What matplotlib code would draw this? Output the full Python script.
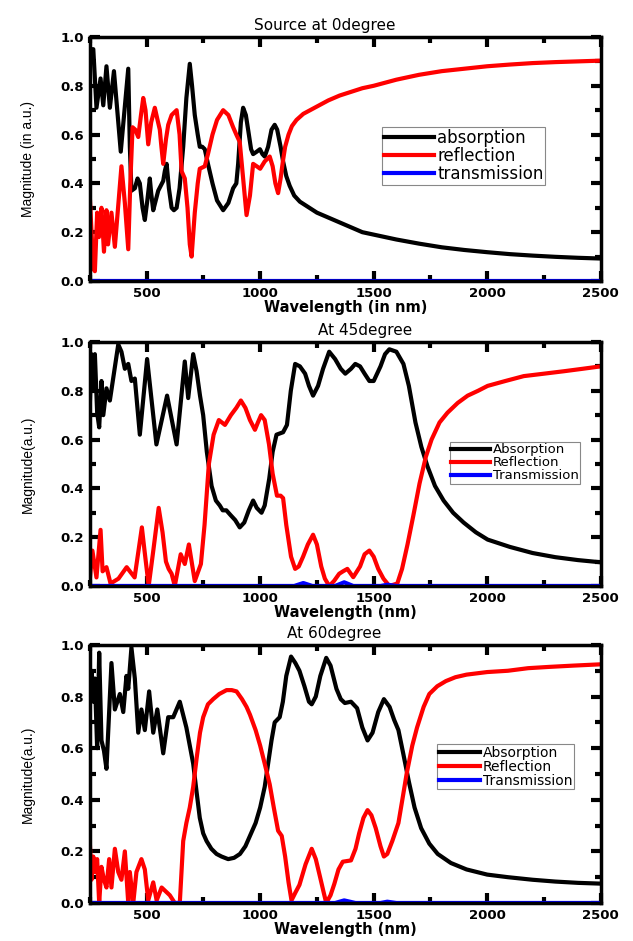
import numpy as np
import matplotlib
matplotlib.use("Agg")
import matplotlib.pyplot as plt
from matplotlib.ticker import MultipleLocator

plt.rcParams['font.family'] = ['DejaVu Sans']

# ---- Source at 0 degree ----
wl_a0 = [250, 265, 279, 297, 309, 323, 338, 356, 386, 419, 426, 433, 448, 460, 470, 482,
         492, 503, 514, 520, 529, 540, 551, 562, 573, 580, 588, 598, 610, 620, 632, 645,
         661, 675, 690, 700, 712, 725, 734, 745, 756, 770, 790, 810, 837, 860, 881, 895,
         903, 915, 925, 937, 947, 960, 969, 985, 999, 1010, 1020, 1035, 1050, 1064, 1075,
         1090, 1101, 1115, 1130, 1150, 1175, 1200, 1250, 1300, 1350, 1400, 1450, 1500,
         1600, 1700, 1800, 1900, 2000, 2100, 2200, 2300, 2400, 2500]
abs0 = [0.95, 0.95, 0.71, 0.83, 0.72, 0.88, 0.71, 0.86, 0.53, 0.87, 0.55, 0.37, 0.38, 0.42,
        0.40, 0.30, 0.25, 0.33, 0.42, 0.36, 0.29, 0.33, 0.37, 0.39, 0.41, 0.45, 0.48, 0.38,
        0.30, 0.29, 0.30, 0.38, 0.55, 0.75, 0.89, 0.80, 0.68, 0.60, 0.55, 0.55, 0.54, 0.48,
        0.40, 0.33, 0.29, 0.32, 0.38, 0.40, 0.48, 0.65, 0.71, 0.68, 0.62, 0.54, 0.52, 0.53,
        0.54, 0.52, 0.51, 0.55, 0.62, 0.64, 0.62, 0.55, 0.49, 0.43, 0.39, 0.35, 0.325, 0.31,
        0.28, 0.26, 0.24, 0.22, 0.20, 0.19, 0.17, 0.153, 0.138, 0.127, 0.118, 0.11, 0.104,
        0.099, 0.095, 0.092]
wl_r0 = [250, 265, 272, 282, 290, 301, 312, 323, 330, 345, 360, 389, 404, 419, 428, 438,
         450, 463, 475, 485, 495, 507, 520, 536, 548, 558, 565, 573, 585, 595, 610, 632,
         645, 654, 668, 680, 690, 698, 712, 725, 734, 756, 770, 790, 810, 837, 860, 881,
         895, 910, 925, 940, 955, 969, 985, 1000, 1020, 1042, 1055, 1067, 1079, 1090, 1100,
         1110, 1125, 1140, 1160, 1190, 1250, 1300, 1350, 1400, 1450, 1500, 1600, 1700, 1800,
         1900, 2000, 2100, 2200, 2300, 2400, 2500]
ref0 = [0.34, 0.05, 0.04, 0.28, 0.18, 0.30, 0.12, 0.29, 0.15, 0.28, 0.14, 0.47, 0.32, 0.13,
        0.40, 0.63, 0.62, 0.59, 0.68, 0.75, 0.70, 0.56, 0.65, 0.71, 0.66, 0.62, 0.55, 0.48,
        0.58, 0.64, 0.68, 0.70, 0.60, 0.45, 0.42, 0.30, 0.15, 0.10, 0.28, 0.40, 0.46, 0.47,
        0.52, 0.60, 0.66, 0.70, 0.68, 0.63, 0.60, 0.57, 0.42, 0.27, 0.35, 0.48, 0.47, 0.46,
        0.49, 0.51, 0.47, 0.40, 0.36, 0.42, 0.49, 0.55, 0.60, 0.635, 0.66, 0.685, 0.715,
        0.74, 0.76, 0.775, 0.79, 0.80, 0.825, 0.845, 0.86, 0.87, 0.88, 0.887, 0.893, 0.897,
        0.90, 0.903]
wl_t0 = [250, 2500]
tra0 = [0.0, 0.0]

# ---- At 45 degree ----
wl_a45 = [250, 257, 265, 272, 282, 291, 301, 309, 323, 338, 375, 389, 404, 419, 433, 448,
          470, 502, 543, 590, 632, 668, 683, 705, 720, 735, 749, 765, 786, 805, 822, 835,
          851, 870, 890, 910, 930, 950, 969, 985, 1006, 1020, 1040, 1055, 1072, 1101, 1118,
          1135, 1154, 1175, 1198, 1215, 1233, 1255, 1277, 1304, 1330, 1355, 1375, 1400, 1419,
          1440, 1460, 1481, 1500, 1530, 1550, 1569, 1600, 1631, 1655, 1684, 1710, 1737, 1770,
          1808, 1850, 1896, 1950, 2002, 2100, 2200, 2300, 2400, 2500]
abs45 = [0.75, 0.95, 0.80, 0.95, 0.71, 0.65, 0.84, 0.70, 0.81, 0.76, 0.99, 0.96, 0.89, 0.91,
         0.84, 0.85, 0.62, 0.93, 0.58, 0.78, 0.58, 0.92, 0.77, 0.95, 0.88, 0.78, 0.70, 0.55,
         0.41, 0.35, 0.33, 0.31, 0.31, 0.29, 0.27, 0.24, 0.26, 0.31, 0.35, 0.32, 0.30, 0.33,
         0.44, 0.55, 0.62, 0.63, 0.66, 0.80, 0.91, 0.90, 0.87, 0.82, 0.78, 0.82, 0.89, 0.96,
         0.93, 0.89, 0.87, 0.89, 0.91, 0.90, 0.87, 0.84, 0.84, 0.90, 0.95, 0.97, 0.96, 0.91,
         0.82, 0.67, 0.57, 0.49, 0.41, 0.35, 0.30, 0.26, 0.22, 0.19, 0.16, 0.135, 0.118,
         0.106, 0.097]
wl_r45 = [250, 261, 279, 297, 306, 323, 341, 376, 412, 447, 479, 490, 509, 530, 553, 570,
          585, 597, 610, 624, 650, 668, 686, 712, 739, 755, 774, 795, 818, 845, 871, 895,
          915, 935, 955, 977, 990, 1004, 1020, 1039, 1055, 1074, 1090, 1101, 1115, 1136, 1154,
          1170, 1189, 1210, 1233, 1250, 1269, 1285, 1304, 1325, 1348, 1365, 1384, 1410, 1440,
          1460, 1481, 1500, 1520, 1543, 1569, 1604, 1625, 1649, 1675, 1702, 1730, 1755, 1790,
          1825, 1870, 1914, 1960, 2002, 2080, 2161, 2250, 2338, 2420, 2500]
ref45 = [0.03, 0.145, 0.035, 0.23, 0.06, 0.077, 0.01, 0.03, 0.077, 0.035, 0.24, 0.15, 0.0,
         0.15, 0.32, 0.22, 0.10, 0.07, 0.05, 0.0, 0.13, 0.09, 0.17, 0.02, 0.09, 0.25, 0.50,
         0.62, 0.68, 0.66, 0.70, 0.73, 0.76, 0.73, 0.68, 0.64, 0.67, 0.70, 0.68, 0.58, 0.46,
         0.37, 0.37, 0.36, 0.25, 0.12, 0.07, 0.08, 0.12, 0.17, 0.21, 0.17, 0.08, 0.03, 0.0,
         0.02, 0.05, 0.06, 0.07, 0.036, 0.08, 0.13, 0.145, 0.12, 0.07, 0.03, 0.0, 0.01, 0.07,
         0.17, 0.29, 0.42, 0.53, 0.60, 0.67, 0.71, 0.75, 0.78, 0.80, 0.82, 0.84, 0.86, 0.87,
         0.88, 0.89, 0.90]
wl_t45 = [250, 1150, 1190, 1230, 1330, 1370, 1410, 1530, 1560, 1600, 2500]
tra45 = [0.0, 0.0, 0.012, 0.0, 0.0, 0.015, 0.0, 0.0, 0.005, 0.0, 0.0]

# ---- At 60 degree ----
wl_a60 = [250, 257, 265, 272, 282, 291, 301, 312, 323, 345, 360, 382, 397, 411, 419, 433,
          448, 463, 477, 492, 511, 529, 547, 573, 595, 617, 646, 675, 705, 720, 734, 749,
          764, 785, 808, 830, 859, 885, 911, 935, 955, 980, 1000, 1020, 1035, 1050, 1064,
          1086, 1100, 1115, 1136, 1155, 1173, 1195, 1215, 1227, 1245, 1265, 1291, 1310, 1336,
          1355, 1373, 1400, 1427, 1450, 1473, 1495, 1520, 1545, 1570, 1590, 1609, 1630, 1655,
          1680, 1709, 1745, 1782, 1840, 1909, 2000, 2091, 2200, 2300, 2400, 2500]
abs60 = [0.79, 0.90, 0.78, 0.87, 0.60, 0.97, 0.63, 0.59, 0.52, 0.93, 0.75, 0.81, 0.74, 0.88,
         0.83, 0.99, 0.87, 0.66, 0.75, 0.67, 0.82, 0.66, 0.75, 0.58, 0.72, 0.72, 0.78, 0.68,
         0.54, 0.43, 0.33, 0.27, 0.24, 0.21, 0.19, 0.18, 0.17, 0.175, 0.19, 0.22, 0.26, 0.31,
         0.37, 0.45, 0.54, 0.63, 0.70, 0.72, 0.78, 0.88, 0.955, 0.93, 0.90, 0.84, 0.78, 0.77,
         0.80, 0.88, 0.95, 0.92, 0.83, 0.79, 0.775, 0.78, 0.755, 0.68, 0.63, 0.66, 0.74, 0.79,
         0.76, 0.71, 0.67, 0.58, 0.47, 0.37, 0.29, 0.23, 0.19, 0.155, 0.13, 0.11, 0.10, 0.09,
         0.083, 0.078, 0.075]
wl_r60 = [250, 257, 265, 272, 282, 291, 301, 312, 323, 335, 345, 360, 375, 389, 404, 419,
          426, 441, 455, 477, 492, 507, 529, 544, 566, 602, 624, 646, 661, 675, 690, 705, 720,
          735, 749, 770, 793, 820, 852, 875, 896, 920, 940, 955, 980, 1000, 1020, 1042, 1060,
          1079, 1095, 1110, 1125, 1138, 1155, 1173, 1200, 1227, 1245, 1264, 1280, 1291, 1310,
          1327, 1345, 1364, 1400, 1420, 1436, 1455, 1473, 1490, 1509, 1530, 1545, 1560, 1582,
          1609, 1630, 1645, 1670, 1691, 1720, 1745, 1780, 1818, 1860, 1909, 2000, 2091, 2180,
          2273, 2380, 2500]
ref60 = [0.23, 0.09, 0.18, 0.12, 0.17, 0.0, 0.14, 0.09, 0.06, 0.17, 0.06, 0.21, 0.12, 0.09,
         0.20, 0.0, 0.12, 0.0, 0.12, 0.17, 0.13, 0.01, 0.08, 0.01, 0.06, 0.03, 0.0, 0.0, 0.24,
         0.31, 0.37, 0.45, 0.56, 0.66, 0.72, 0.77, 0.79, 0.81, 0.825, 0.825, 0.82, 0.79, 0.76,
         0.73, 0.67, 0.61, 0.54, 0.46, 0.37, 0.28, 0.26, 0.18, 0.08, 0.01, 0.04, 0.07, 0.15,
         0.21, 0.17, 0.10, 0.04, 0.0, 0.03, 0.075, 0.13, 0.16, 0.165, 0.21, 0.27, 0.33, 0.36,
         0.34, 0.29, 0.22, 0.18, 0.19, 0.24, 0.31, 0.42, 0.50, 0.61, 0.68, 0.76, 0.81, 0.84,
         0.86, 0.875, 0.885, 0.895, 0.90, 0.91, 0.915, 0.92, 0.925]
wl_t60 = [250, 1330, 1370, 1420, 1530, 1560, 1600, 2500]
tra60 = [0.0, 0.0, 0.01, 0.0, 0.0, 0.005, 0.0, 0.0]

panels = [
    dict(title='Source at 0degree', tx=0.46, xlabel='Wavelength (in nm)',
         ylabel='Magnitude (in a.u.)', labels=['absorption', 'reflection', 'transmission'],
         data=[(wl_a0, abs0), (wl_r0, ref0), (wl_t0, tra0)],
         rect=[0.142, 0.7014, 0.807, 0.2593], leg=(0.572, 0.63), legsize=12, hl=3.0),
    dict(title='At 45degree', tx=0.538, xlabel='Wavelength (nm)', ylabel='Magnitude(a.u.)',
         labels=['Absorption', 'Reflection', 'Transmission'],
         data=[(wl_a45, abs45), (wl_r45, ref45), (wl_t45, tra45)],
         rect=[0.142, 0.3773, 0.807, 0.2593], leg=(0.704, 0.59), legsize=9.5, hl=3.0),
    dict(title='At 60degree', tx=0.479, xlabel='Wavelength (nm)', ylabel='Magnitude(a.u.)',
         labels=['Absorption', 'Reflection', 'Transmission'],
         data=[(wl_a60, abs60), (wl_r60, ref60), (wl_t60, tra60)],
         rect=[0.142, 0.0404, 0.807, 0.2742], leg=(0.68, 0.615), legsize=10, hl=3.0),
]
colors = ['black', 'red', 'blue']

fig = plt.figure(figsize=(6.33, 9.41), dpi=100)
for p in panels:
    ax = fig.add_axes(p['rect'])
    for (x, y), c, lab in zip(p['data'], colors, p['labels']):
        ax.plot(x, y, color=c, lw=3.0, label=lab, solid_joinstyle='round')
    ax.set_xlim(250, 2500)
    ax.set_ylim(0, 1.0)
    ax.xaxis.set_minor_locator(MultipleLocator(250))
    ax.yaxis.set_minor_locator(MultipleLocator(0.1))
    ax.set_xticks([500, 1000, 1500, 2000, 2500])
    ax.set_xticklabels(['500', '1000', '1500', '2000', '2500'], fontweight='bold')
    ax.set_yticks([0.0, 0.2, 0.4, 0.6, 0.8, 1.0])
    ax.set_yticklabels(['0.0', '0.2', '0.4', '0.6', '0.8', '1.0'], fontweight='bold')
    ax.tick_params(which='both', direction='in', top=True, right=True, width=3)
    ax.tick_params(which='major', length=7, labelsize=9.5, pad=4)
    ax.tick_params(which='minor', length=4.5)
    for s in ax.spines.values():
        s.set_linewidth(2.5)
    ax.set_title(p['title'], fontsize=11, pad=5, x=p['tx'])
    ax.set_xlabel(p['xlabel'], fontsize=10.5, fontweight='bold', labelpad=0)
    ax.set_ylabel(p['ylabel'], fontsize=10,
                  family=['Liberation Sans Narrow', 'Liberation Sans'])
    ax.yaxis.set_label_coords(-0.108, 0.5)
    leg = ax.legend(loc='upper left', bbox_to_anchor=p['leg'], fontsize=p['legsize'],
                    frameon=True, fancybox=False, edgecolor='#888888', framealpha=1,
                    borderpad=0.1, labelspacing=0.0, handlelength=p['hl'],
                    handletextpad=0.2, borderaxespad=0)
    leg.get_frame().set_linewidth(0.8)

fig.savefig('out.png', dpi=100)
